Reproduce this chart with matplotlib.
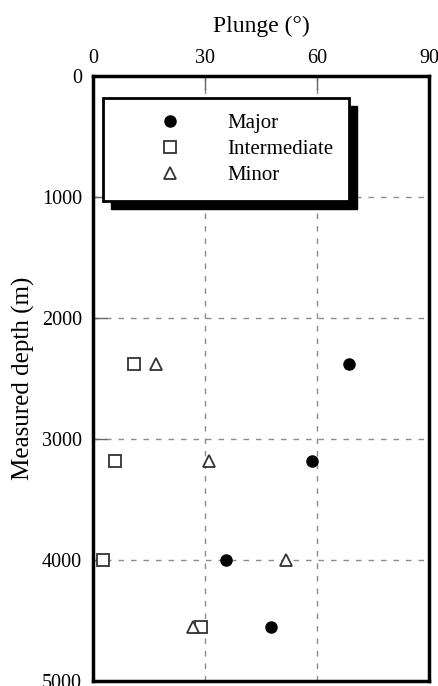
"""
Plunge of principal stress axes against measured depth.
"""

import matplotlib
matplotlib.use('Agg')
import matplotlib.pyplot as plt
from matplotlib.patches import Rectangle
from matplotlib.transforms import IdentityTransform

# Data (depth in m, plunge in degrees)
DEPTH = [2380, 3185, 4000, 4555]
MAJOR = [68.7, 58.7, 35.7, 47.7]
INTERMEDIATE = [11.0, 5.9, 2.8, 29.0]
MINOR_DEPTH = [2380, 3185, 4000, 4555]
MINOR = [16.9, 31.0, 51.7, 26.8]

X_TICKS = [0, 30, 60, 90]
Y_TICKS = [0, 1000, 2000, 3000, 4000, 5000]

plt.rcParams['font.family'] = ['Liberation Serif', 'DejaVu Serif']
plt.rcParams['font.size'] = 14.5

fig = plt.figure(figsize=(4.39, 6.86), dpi=100)
ax = fig.add_axes([93 / 439, 1 - 681 / 686, 336 / 439, 605 / 686])

ax.plot(MAJOR, DEPTH, 'o', color='black', markersize=8, label='Major', clip_on=False)
ax.plot(INTERMEDIATE, DEPTH, 's', mfc='white', mec='#333333', mew=1.3,
        markersize=9, label='Intermediate', clip_on=False)
ax.plot(MINOR, MINOR_DEPTH, '^', mfc='white', mec='#333333', mew=1.3,
        markersize=9, label='Minor', clip_on=False)

ax.set_xlim(0, 90)
ax.set_ylim(5000, 0)
ax.set_xticks(X_TICKS)
ax.set_yticks(Y_TICKS)
ax.xaxis.tick_top()
ax.xaxis.set_label_position('top')
ax.set_xlabel('Plunge (°)', labelpad=12, fontsize=17)
ax.set_ylabel('Measured depth (m)', labelpad=5, fontsize=18)
ax.tick_params(direction='in', length=10, width=1, color='#666666', pad=8)
ax.tick_params(axis='x', pad=6)
for s in ax.spines.values():
    s.set_linewidth(2.5)
ax.grid(True, linestyle=(0, (4, 5)), color='#8c8c8c', linewidth=1)
ax.set_axisbelow(True)

leg = ax.legend(loc='upper left', bbox_to_anchor=(0.03, 0.964), borderaxespad=0,
                fancybox=False, edgecolor='black', framealpha=1,
                handletextpad=0.29, borderpad=0.77, labelspacing=0.3,
                handlelength=4.9, fontsize=15)
leg.get_frame().set_linewidth(2)
leg.set_zorder(10)

# black drop shadow behind the legend box
fig.canvas.draw()
bb = leg.get_window_extent()
shadow = Rectangle((bb.x0 + 8, bb.y0 - 8), bb.width, bb.height,
                   transform=IdentityTransform(), facecolor='black',
                   edgecolor='black', zorder=9, clip_on=False)
ax.add_artist(shadow)

fig.savefig('out.png', dpi=100)
